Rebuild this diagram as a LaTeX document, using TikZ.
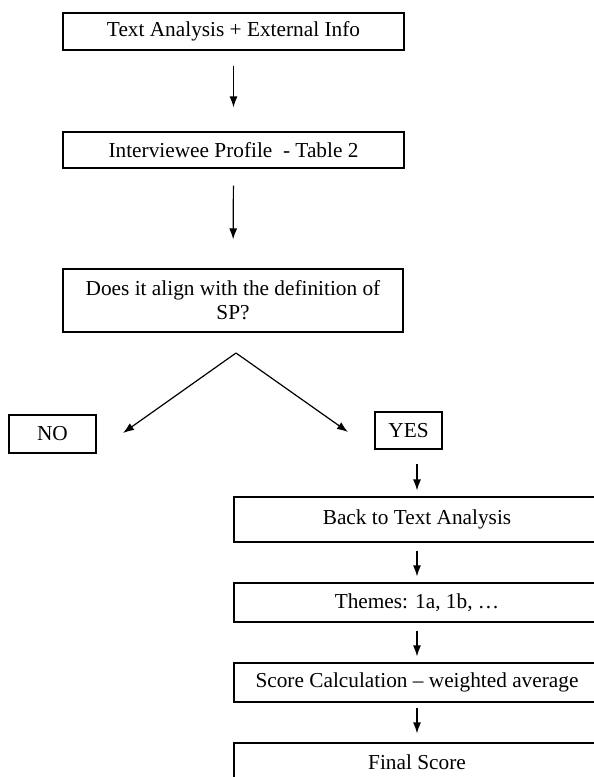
\documentclass[tikz,border=0pt]{standalone}
\usepackage{fontspec}
\setmainfont{Liberation Serif}
\usetikzlibrary{arrows.meta}

\begin{document}
\begin{tikzpicture}[x = 1pt, y = 1pt, line width = 1.2pt,
  box/.style = {draw, inner sep = 0pt, align = center, font = \fontsize{21.3}{24}\selectfont},
  arr/.style = {-{Latex[length = 11pt, width = 8pt]}}]
\clip (0,0) rectangle (594,-777);
\node[box, minimum width = 341pt, minimum height = 37pt] (textinfo) at (233.5,-31.5) {Text Analysis + External Info};
\node[box, minimum width = 341pt, minimum height = 36pt] (profile) at (233.5,-150) {Interviewee Profile\ \ - Table 2};
\node[box, minimum width = 340pt, minimum height = 63pt] (align) at (233,-300.5) {Does it align with the definition of\\ SP?};
\node[box, minimum width = 87pt, minimum height = 38pt] (no) at (52.5,-434) {NO};
\node[box, minimum width = 67pt, minimum height = 37pt] (yes) at (408.5,-430.5) {YES};
\node[box, minimum width = 366pt, minimum height = 45pt] (back) at (417,-519.5) {Back to Text Analysis};
\node[box, minimum width = 366pt, minimum height = 39pt] (themes) at (417,-602.5) {Themes: 1a, 1b, \dots};
\node[box, minimum width = 366pt, minimum height = 39pt] (score) at (417,-682.5) {Score Calculation -- weighted average};
\node[box, minimum width = 366pt, minimum height = 39pt] (final) at (417,-762.5) {Final Score};
\coordinate (split) at (236,-353);
\coordinate (noend) at (123,-433);
\coordinate (yesend) at (348,-432);
\draw[arr, shorten <= 15pt, shorten >= 24pt] (textinfo.south) -- (profile.north);
\draw[arr, shorten <= 17pt, shorten >= 29pt] (profile.south) -- (align.north);
\draw[arr] (split) -- (noend);
\draw[arr] (split) -- (yesend);
\draw[arr, shorten <= 14pt, shorten >= 6pt] (yes.south -| back.north) -- (back.north);
\draw[arr, shorten <= 8pt, shorten >= 6pt] (back.south) -- (themes.north);
\draw[arr, shorten <= 8pt, shorten >= 6pt] (themes.south) -- (score.north);
\draw[arr, shorten <= 5pt, shorten >= 9pt] (score.south) -- (final.north);
\end{tikzpicture}
\end{document}
